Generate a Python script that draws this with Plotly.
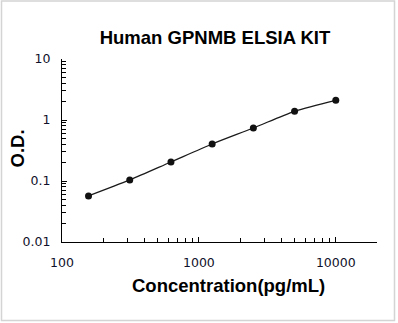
import plotly.graph_objects as go

concentration = [156.25, 312.5, 625, 1250, 2500, 5000, 10000]
od = [0.057, 0.104, 0.205, 0.404, 0.74, 1.39, 2.10]

title_text = "Human GPNMB ELSIA KIT"
x_title = "Concentration(pg/mL)"
y_title = "O.D."

W, H = 398, 323
L, R, T, B = 62, 21, 59, 81
pw, ph = W - L - R, H - T - B

fig = go.Figure()
fig.add_trace(go.Scatter(
    x=concentration, y=od, mode="lines+markers",
    line=dict(color="#1a1a1a", width=1.3, shape="spline", smoothing=0.8),
    marker=dict(color="#111111", size=7),
    showlegend=False, cliponaxis=False,
))

def px2paper_x(px):
    return (px - L) / pw

def px2paper_y(py):
    return (H - B - py) / ph

fig.add_shape(type="rect", xref="paper", yref="paper",
              x0=px2paper_x(1.5), x1=px2paper_x(394.5),
              y0=px2paper_y(320.5), y1=px2paper_y(1.0),
              line=dict(color="#d4d4d4", width=1.5), layer="below")

tickfont = dict(family="DejaVu Sans", size=12.5, color="#10102a")
axfont = dict(family="Liberation Sans, Arial", size=18.5, color="black")

fig.add_annotation(text="<b>" + x_title + "</b>", xref="paper", yref="paper",
                   x=px2paper_x(228.5), y=px2paper_y(285), xanchor="center", yanchor="middle",
                   showarrow=False, font=axfont)
fig.add_annotation(text="<b>" + y_title + "</b>", xref="paper", yref="paper",
                   x=px2paper_x(16.5), y=px2paper_y(149), xanchor="center", yanchor="middle",
                   showarrow=False, font=axfont, textangle=-90)

fig.update_layout(
    width=W, height=H,
    margin=dict(l=L, r=R, t=T, b=B, autoexpand=False),
    paper_bgcolor="white", plot_bgcolor="white",
    title=dict(text="<b>" + title_text + "</b>", x=215 / W, xanchor="center",
               y=1 - 38 / H, yanchor="middle",
               font=dict(family="Liberation Sans, Arial", size=18.5, color="black")),
    xaxis=dict(type="log", range=[2, 4.30103], dtick=1, automargin=False,
               showline=True, linecolor="black", linewidth=1.3,
               ticks="inside", ticklen=5, tickcolor="black", tickwidth=1,
               minor=dict(ticks="inside", ticklen=4, tickcolor="black", dtick="D1", showgrid=False),
               showgrid=False, zeroline=False, mirror=False,
               tickfont=tickfont, tickformat="d", ticklabelstandoff=9),
    yaxis=dict(type="log", range=[-2, 1], dtick=1, automargin=False,
               showline=True, linecolor="black", linewidth=1.3,
               ticks="inside", ticklen=5, tickcolor="black", tickwidth=1,
               minor=dict(ticks="inside", ticklen=4, tickcolor="black", dtick="D1", showgrid=False),
               showgrid=False, zeroline=False, mirror=False,
               tickfont=tickfont, tickvals=[0.01, 0.1, 1, 10],
               ticktext=["0.01", "0.1", "1", "10"], ticklabelstandoff=8),
)

fig.write_html("out.html")
